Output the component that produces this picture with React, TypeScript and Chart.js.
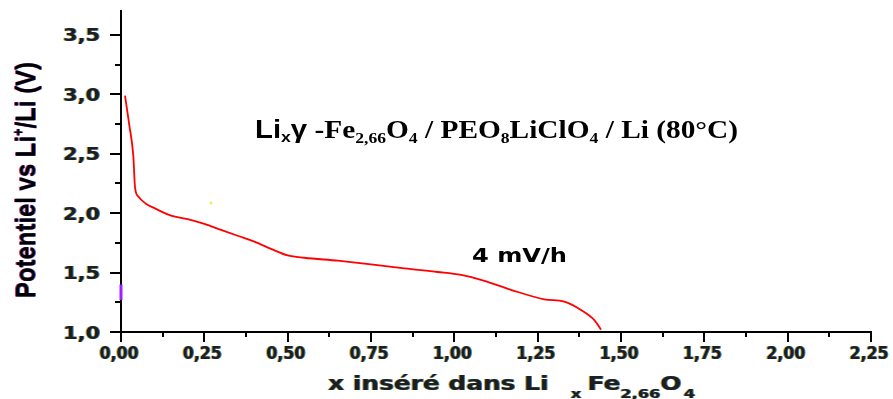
import React, { useEffect, useRef } from 'react';
import { Chart, registerables } from 'chart.js';

Chart.register(...registerables);

// ---- Data ----
const X_INSERTED = [
  0.012, 0.025, 0.037, 0.042, 0.052, 0.075, 0.102, 0.15, 0.2, 0.25, 0.3, 0.35, 0.4, 0.45, 0.5,
  0.55, 0.65, 0.75, 0.85, 0.95, 1.02, 1.09, 1.17, 1.27, 1.33, 1.38, 1.42, 1.44,
];
const POTENTIAL = [
  2.99, 2.74, 2.48, 2.22, 2.14, 2.08, 2.04, 1.98, 1.95, 1.91, 1.86, 1.81, 1.76, 1.70, 1.645,
  1.625, 1.6, 1.57, 1.535, 1.505, 1.48, 1.43, 1.355, 1.275, 1.255, 1.185, 1.1, 1.02,
];

const MARK_X = [0, 0];
const MARK_Y = [1.27, 1.4];
const DOT_X = [0.27];
const DOT_Y = [2.086];

const X_TICK_VALUES = [0, 0.25, 0.5, 0.75, 1.0, 1.25, 1.5, 1.75, 2.0, 2.25];
const X_TICK_LABELS = ['0,00', '0,25', '0,50', '0,75', '1,00', '1,25', '1,50', '1,75', '2,00', '2,25'];
const X_MINOR_TICKS = [0.125, 0.375, 0.625, 0.875, 1.125, 1.375, 1.625, 1.875, 2.125];
const Y_TICK_VALUES = [1.0, 1.5, 2.0, 2.5, 3.0, 3.5];
const Y_TICK_LABELS = ['1,0', '1,5', '2,0', '2,5', '3,0', '3,5'];
const Y_MINOR_TICKS = [1.25, 1.75, 2.25, 2.75, 3.25];

const X_MIN = 0;
const X_MAX = 2.25;
const Y_MIN = 1.0;
const Y_MAX = 3.71;

// ---- Text helpers ----
type Seg = { t: string; font: string; dy?: number; gap?: number };
type Pass = { color: string; ox: number; oy: number };

const FRINGE: Pass[] = [
  { color: 'rgba(225,160,30,0.95)', ox: -1, oy: 0 },
  { color: 'rgba(30,130,215,0.95)', ox: 1, oy: 0 },
  { color: '#1e1e1e', ox: 0, oy: 0 },
];
const FRINGE_TITLE: Pass[] = [
  { color: 'rgba(210,30,60,0.9)', ox: -1, oy: 0 },
  { color: 'rgba(40,90,230,0.9)', ox: 1, oy: 0 },
  { color: '#000', ox: 0, oy: 0 },
];
const PLAIN: Pass[] = [{ color: '#000', ox: 0, oy: 0 }];

function drawRich(
  ctx: CanvasRenderingContext2D,
  segs: Seg[],
  x: number,
  y: number,
  align: 'left' | 'center' | 'right',
  width: number | null,
  passes: Pass[],
  rotate = 0,
) {
  ctx.save();
  ctx.textAlign = 'left';
  ctx.textBaseline = 'alphabetic';
  const ws = segs.map((s) => {
    ctx.font = s.font;
    return ctx.measureText(s.t).width + (s.gap || 0);
  });
  const total = ws.reduce((a, b) => a + b, 0);
  const sx = width ? width / total : 1;
  const start = align === 'center' ? -total / 2 : align === 'right' ? -total : 0;
  for (const p of passes) {
    ctx.save();
    ctx.translate(x + p.ox, y + p.oy);
    if (rotate) ctx.rotate(rotate);
    ctx.scale(sx, 1);
    ctx.fillStyle = p.color;
    let cx = start;
    segs.forEach((s, i) => {
      ctx.font = s.font;
      ctx.fillText(s.t, cx + (s.gap || 0), s.dy || 0);
      cx += ws[i];
    });
    ctx.restore();
  }
  ctx.restore();
}

const TICK_FONT = 'bold 17px "DejaVu Sans"';

const axesPlugin = {
  id: 'customAxes',
  beforeDatasetsDraw(chart: any) {
    const { ctx, scales } = chart;
    const xs = scales.x;
    const ys = scales.y;
    const x0 = xs.getPixelForValue(X_MIN);
    const x1 = xs.getPixelForValue(X_MAX);
    const y0 = ys.getPixelForValue(Y_MIN);
    const yTop = ys.getPixelForValue(Y_MAX);
    ctx.save();
    ctx.strokeStyle = '#000';
    ctx.lineWidth = 2;
    ctx.lineCap = 'butt';
    ctx.beginPath();
    // y axis line
    ctx.moveTo(x0, yTop);
    ctx.lineTo(x0, y0 + 10);
    // x axis line
    ctx.moveTo(x0 - 11, y0);
    ctx.lineTo(x1 + 1, y0);
    // y ticks
    Y_TICK_VALUES.forEach((v) => {
      const py = Math.round(ys.getPixelForValue(v));
      ctx.moveTo(x0 - 11, py);
      ctx.lineTo(x0, py);
    });
    Y_MINOR_TICKS.forEach((v) => {
      const py = Math.round(ys.getPixelForValue(v));
      ctx.moveTo(x0 - 6, py);
      ctx.lineTo(x0, py);
    });
    // x ticks
    X_TICK_VALUES.forEach((v) => {
      const px = Math.round(xs.getPixelForValue(v));
      ctx.moveTo(px, y0);
      ctx.lineTo(px, y0 + 10);
    });
    X_MINOR_TICKS.forEach((v) => {
      const px = Math.round(xs.getPixelForValue(v));
      ctx.moveTo(px, y0);
      ctx.lineTo(px, y0 + 5);
    });
    ctx.stroke();
    ctx.restore();

    // tick labels
    Y_TICK_VALUES.forEach((v, i) => {
      const py = ys.getPixelForValue(v);
      drawRich(ctx, [{ t: Y_TICK_LABELS[i], font: TICK_FONT }], x0 - 21, py + 6.5, 'right', 37, FRINGE);
    });
    X_TICK_VALUES.forEach((v, i) => {
      const px = xs.getPixelForValue(v);
      drawRich(ctx, [{ t: X_TICK_LABELS[i], font: TICK_FONT }], px - 2, y0 + 27, 'center', 39, FRINGE);
    });

    // axis titles
    const big = 'bold 20px "DejaVu Sans"';
    const sub = 'bold 13px "DejaVu Sans"';
    drawRich(
      ctx,
      [
        { t: 'x inséré dans Li', font: big },
        { t: 'x', font: sub, dy: 8, gap: 18 },
        { t: 'Fe', font: big, gap: 5 },
        { t: '2,66', font: sub, dy: 8 },
        { t: 'O', font: big },
        { t: '4', font: sub, dy: 8, gap: 2 },
      ],
      328,
      y0 + 58,
      'left',
      367,
      FRINGE,
    );

    const yt = 'bold 28px "Liberation Sans"';
    drawRich(
      ctx,
      [
        { t: 'Potentiel vs Li', font: yt },
        { t: '+', font: 'bold 15px "Liberation Sans"', dy: -12 },
        { t: '/Li (V)', font: yt },
      ],
      35,
      180,
      'center',
      236,
      FRINGE_TITLE,
      -Math.PI / 2,
    );

    // annotations
    const sa = 'bold 25px "Liberation Sans"';
    const ss = 'bold 15px "Liberation Sans"';
    const ta = 'bold 25px "Liberation Serif"';
    const ts = 'bold 15px "Liberation Serif"';
    drawRich(
      ctx,
      [
        { t: 'Li', font: sa },
        { t: 'x', font: ss, dy: 4 },
        { t: 'γ', font: sa },
        { t: ' -Fe', font: ta },
        { t: '2,66', font: ts, dy: 5 },
        { t: 'O', font: ta },
        { t: '4', font: ts, dy: 5 },
        { t: ' / PEO', font: ta },
        { t: '8', font: ts, dy: 5 },
        { t: 'LiClO', font: ta },
        { t: '4', font: ts, dy: 5 },
        { t: ' / Li (80°C)', font: ta },
      ],
      255,
      138,
      'left',
      483,
      PLAIN,
    );
    drawRich(ctx, [{ t: '4 mV/h', font: 'bold 20px "DejaVu Sans"' }], 472, 262, 'left', 95, PLAIN);
  },
};

export default function App() {
  const ref = useRef<HTMLCanvasElement | null>(null);

  useEffect(() => {
    document.body.style.margin = '0';
    const canvas = ref.current;
    if (!canvas) return;
    const chart = new Chart(canvas, {
      type: 'scatter',
      data: {
        datasets: [
          {
            data: X_INSERTED.map((x, i) => ({ x, y: POTENTIAL[i] })),
            showLine: true,
            borderColor: '#ff0000',
            borderWidth: 1.8,
            pointRadius: 0,
            cubicInterpolationMode: 'monotone',
            clip: false,
          } as any,
          {
            data: MARK_X.map((x, i) => ({ x, y: MARK_Y[i] })),
            showLine: true,
            borderColor: '#a020ff',
            borderWidth: 3,
            pointRadius: 0,
            clip: false,
          } as any,
          {
            data: DOT_X.map((x, i) => ({ x, y: DOT_Y[i] })),
            pointRadius: 1.5,
            backgroundColor: '#f4f040',
            borderWidth: 0,
          } as any,
        ],
      },
      options: {
        animation: false,
        responsive: false,
        maintainAspectRatio: false,
        devicePixelRatio: 1,
        layout: { padding: { left: 121, right: 22, top: 10, bottom: 67 } },
        plugins: { legend: { display: false }, tooltip: { enabled: false } },
        events: [],
        scales: {
          x: { type: 'linear', min: X_MIN, max: X_MAX, display: false },
          y: { type: 'linear', min: Y_MIN, max: Y_MAX, display: false },
        },
      },
      plugins: [axesPlugin],
    });
    return () => chart.destroy();
  }, []);

  return (
    <div style={{ width: 893, height: 399, background: '#fff' }}>
      <canvas ref={ref} width={893} height={399} style={{ display: 'block' }} />
    </div>
  );
}
